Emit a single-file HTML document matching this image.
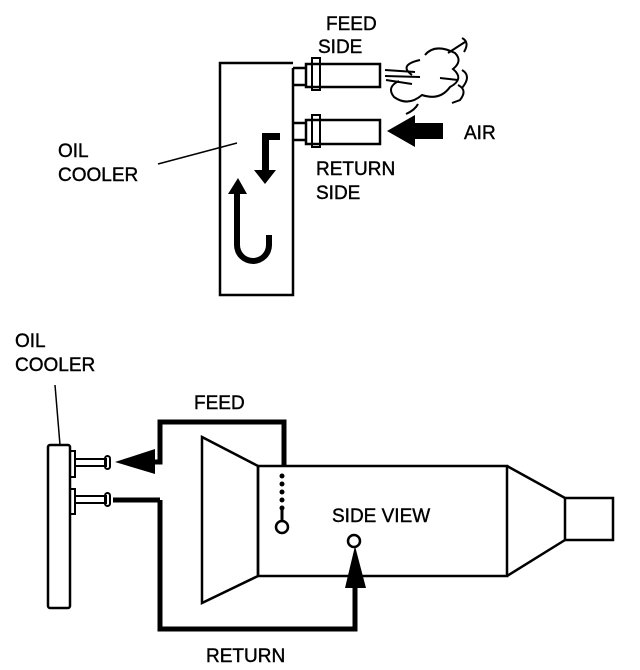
<!DOCTYPE html>
<html><head><style>body{margin:0;background:#fff}svg{display:block}text{font-family:"Liberation Sans",sans-serif;font-size:19px;fill:#000;stroke:#000;stroke-width:0.4}</style></head>
<body>
<svg width="640" height="670" viewBox="0 0 640 670" xmlns="http://www.w3.org/2000/svg">
<g fill="none" stroke="#000" stroke-width="2.5">
<path d="M293 63 H220 V295 H293 V68"/>
<path d="M293 68 H306 M293 85 H306 M293 123 H306 M293 140 H306"/>
<rect x="306" y="64" width="74" height="23"/>
<rect x="306" y="120" width="74" height="24"/>
<rect x="312" y="58" width="8" height="32" stroke-width="2"/>
<rect x="312" y="115" width="8" height="32" stroke-width="2"/>
<line x1="158" y1="164" x2="237" y2="143" stroke-width="1.5"/>
<g stroke-width="2">
<path d="M385 70 L415 72 M385 76 L420 77 M386 80 L412 84"/>
<path d="M420 60 q-22 5 -8 15 M425 55 q10 -12 30 -2 q8 8 -2 16 q12 10 -3 18 q-10 14 -28 8 q-14 12 -28 2 q-8 -10 5 -16"/>
<path d="M448 53 L465 42 M462 38 q8 4 2 14 M440 78 L458 80 M462 70 q10 6 0 18 M458 85 q10 5 2 15 L452 103 M418 104 q-3 6 -12 10"/>
</g>
<rect x="48" y="445" width="22" height="163" rx="2"/>
<rect x="70" y="451" width="5" height="26" stroke-width="2"/>
<rect x="70" y="489" width="5" height="25" stroke-width="2"/>
<line x1="55" y1="385" x2="60" y2="445" stroke-width="1.5"/>
<rect x="75" y="459" width="31" height="7" stroke-width="2"/>
<rect x="75" y="496" width="31" height="7" stroke-width="2"/>
<rect x="105" y="456" width="5" height="13" rx="2.5" stroke-width="2"/>
<rect x="105" y="493" width="5" height="13" rx="2.5" stroke-width="2"/>
<path d="M202 437 L258 466 V576 L202 603 Z"/>
<rect x="258" y="466" width="249" height="110"/>
<path d="M507 466 L565 498 M507 576 L565 540"/>
<rect x="565" y="498" width="48" height="42"/>
<circle cx="282" cy="527" r="6"/>
<circle cx="354" cy="541" r="6"/>
<path d="M155 462 H160 V422 H284 V466" stroke-width="5"/>
<path d="M160 500 V629 H355 V585 M113 500 H160" stroke-width="5"/>
</g>
<g fill="#000">
<circle cx="282" cy="476" r="2.5"/><circle cx="282" cy="484" r="2.5"/><circle cx="282" cy="492" r="2.5"/><circle cx="282" cy="500" r="2.5"/><circle cx="282" cy="508" r="2.5"/><rect x="280.5" y="510" width="3" height="12"/>
<polygon points="115,462 155,449 155,474"/>
<polygon points="355,546 345,588 366,588"/>
<polygon points="387,131 415,115 415,123 443,123 443,139 415,139 415,147"/>
<path d="M262 133 H280 V140 H269 V170 H276 L265 184 L254 170 H262 Z"/>
<path d="M238 178 L228 194 H234 V245 A19 19 0 0 0 272 245 V235 H266 V245 A13 13 0 0 1 240 245 V194 H247 Z"/>
</g>
<text x="326" y="30">FEED</text>
<text x="318" y="53">SIDE</text>
<text x="464" y="139">AIR</text>
<text x="316" y="175">RETURN</text>
<text x="316" y="199">SIDE</text>
<text x="58" y="157">OIL</text>
<text x="58" y="181">COOLER</text>
<text x="15" y="347">OIL</text>
<text x="15" y="371">COOLER</text>
<text x="194" y="409">FEED</text>
<text x="332" y="522">SIDE VIEW</text>
<text x="206" y="662">RETURN</text>
</svg>
</body></html>
